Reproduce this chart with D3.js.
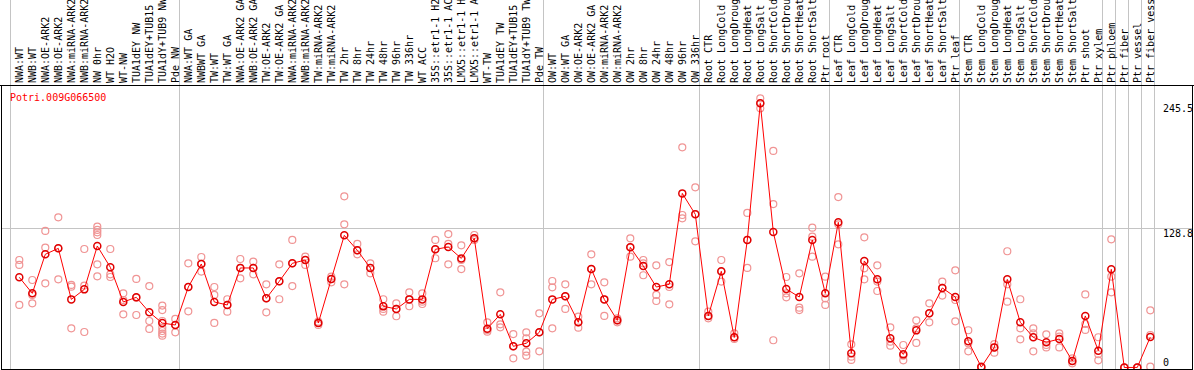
<!DOCTYPE html>
<html>
<head>
<meta charset="utf-8">
<script src="https://cdn.jsdelivr.net/npm/d3@7"></script>
<style>
  body { margin: 0; background: #fff; }
  svg { display: block; font-family: "DejaVu Sans Mono", "Liberation Mono", monospace; font-size: 10px; }
</style>
</head>
<body>
<div id="chart"></div>
<script>
// Datos del gráfico
const gene = "Potri.009G066500";

const categories = [
  "NWA:WT", "NWB:WT", "NWA:OE-ARK2", "NWB:OE-ARK2", "NWA:miRNA-ARK2", "NWB:miRNA-ARK2",
  "NW 0hr", "WT H2O", "WT-NW", "TUA1dEY NW", "TUA1dEY+TUB15 NW", "TUA1dY+TUB9 NW", "Pde NW",
  "NWA:WT GA", "NWBWT GA", "TW:WT", "TW:WT GA", "NWA:OE-ARK2 GA", "NWB:OE-ARK2 GA",
  "TW:OE-ARK2", "TW:OE-ARK2 GA", "NWA:miRNA-ARK2 GA", "NWB:miRNA-ARK2 GA", "TW:miRNA-ARK2",
  "TW:miRNA-ARK2", "TW 2hr", "TW 8hr", "TW 24hr", "TW 48hr", "TW 96hr", "TW 336hr", "WT ACC",
  "35S::etr1-1 H2O", "35S::etr1-1 ACC", "LMX5::etr1-1 H2O", "LMX5::etr1-1 ACC", "WT-TW",
  "TUA1dEY TW", "TUA1dEY+TUB15 TW", "TUA1dY+TUB9 TW", "Pde TW",
  "OW:WT", "OW:WT GA", "OW:OE-ARK2", "OW:OE-ARK2 GA", "OW:miRNA-ARK2", "OW:miRNA-ARK2",
  "OW 2hr", "OW 8hr", "OW 24hr", "OW 48hr", "OW 96hr", "OW 336hr",
  "Root CTR", "Root LongCold", "Root LongDrought", "Root LongHeat", "Root LongSalt",
  "Root ShortCold", "Root ShortDrought", "Root ShortHeat", "Root ShortSalt", "Ptr root",
  "Leaf CTR", "Leaf LongCold", "Leaf LongDrought", "Leaf LongHeat", "Leaf LongSalt",
  "Leaf ShortCold", "Leaf ShortDrought", "Leaf ShortHeat", "Leaf ShortSalt", "Ptr leaf",
  "Stem CTR", "Stem LongCold", "Stem LongDrought", "Stem LongHeat", "Stem LongSalt",
  "Stem ShortCold", "Stem ShortDrought", "Stem ShortHeat", "Stem ShortSalt", "Ptr shoot",
  "Ptr xylem", "Ptr phloem", "Ptr fiber", "Ptr vessel", "Ptr fiber vessel"
];

// Promedio por muestra
const means = [
  83.8, 68.9, 105.2, 110.7, 63.3, 72.6, 112.9, 93.1, 60.9, 65.2, 51.3, 41.3, 39.5,
  74.8, 96.2, 60.9, 58.1, 92.5, 92.5, 64.3, 80.1, 96.8, 99.9, 41.3, 82.2, 122.8, 108.9,
  92.5, 56.8, 54.4, 63.3, 63.3, 109.8, 112.0, 101.4, 120.0, 36.1, 49.4, 19.7, 22.5, 32.7,
  63.3, 66.1, 42.0, 91.5, 63.3, 43.8, 111.7, 94.3, 74.8, 77.3, 161.8, 142.3,
  47.9, 89.4, 28.0, 118.5, 245.5, 125.9, 72.9, 65.5, 118.5, 68.9,
  134.9, 13.2, 99.0, 81.9, 27.1, 12.2, 34.5, 50.3, 73.9, 65.5,
  24.3, 0.4, 18.7, 81.9, 42.0, 28.0, 23.4, 26.5, 6.0, 47.9,
  15.6, 91.2, 0.0, 0.1, 28.3
];

// Réplicas por muestra
const replicates = [
  [99.9, 95.3, 58.1], [81.3, 67.4, 59.6], [126.9, 111.4, 78.2], [139.5, 110.7, 81.9],
  [76.7, 75.1, 36.4], [110.1, 76.1, 33.0], [130.9, 127.8, 125.6, 123.1, 95.9, 84.7],
  [110.1, 86.6, 84.1], [68.9, 62.7, 49.4], [82.3, 64.9, 48.8], [75.7, 43.2, 35.8],
  [57.5, 53.4, 43.2, 37.0, 33.9, 31.5, 29.6], [45.1, 39.5, 32.7],
  [96.8, 74.8, 52.2], [102.7, 96.2, 89.1], [74.8, 67.4, 41.4], [63.4, 58.1, 51.9],
  [100.8, 92.5, 82.9], [98.4, 92.5, 86.6], [77.3, 64.3, 51.3], [95.9, 80.1, 63.4],
  [118.5, 96.8, 75.7], [103.0, 99.9, 95.3], [42.6, 41.4, 39.5], [84.4, 82.2, 79.1],
  [159.1, 133.0, 77.3], [114.8, 108.9, 105.2], [96.8, 92.5, 87.5], [63.4, 54.4, 51.9],
  [59.6, 54.4, 47.6], [69.9, 63.4, 56.9], [68.9, 61.2, 59.0], [118.5, 109.8, 101.5],
  [124.0, 114.8, 95.9], [113.5, 99.9, 91.5], [123.1, 120.0, 118.5], [42.0, 34.9, 33.3],
  [69.9, 40.1, 37.3], [31.1, 19.7, 8.5], [32.7, 27.1, 14.7, 11.0], [50.3, 32.7, 15.0],
  [80.4, 74.5, 36.4], [77.3, 66.1, 54.4], [47.3, 42.0, 37.0], [105.2, 91.5, 77.3],
  [79.1, 63.4, 47.9], [45.7, 43.8, 42.0], [120.0, 111.7, 103.0], [99.9, 96.8, 85.7],
  [94.9, 67.4, 61.8], [98.0, 74.8, 58.7], [204.6, 141.7, 138.6], [167.4, 142.6, 117.2],
  [51.9, 47.9, 45.7], [99.9, 89.1, 79.8], [31.8, 28.1, 26.5], [143.6, 118.5, 92.5],
  [250.1, 245.5, 240.8], [201.2, 151.9, 25.3], [84.1, 68.9, 65.2], [87.5, 55.6, 53.4],
  [129.9, 121.6, 103.0], [84.4, 64.3, 58.1],
  [158.4, 133.0, 114.5], [21.5, 10.1, 7.0], [121.0, 92.2, 81.9], [94.9, 79.8, 71.1],
  [37.3, 24.0, 20.3], [20.9, 11.0, 6.7], [43.8, 36.4, 22.8], [59.6, 50.3, 42.0],
  [79.8, 73.9, 66.8], [90.3, 62.7, 42.9],
  [34.6, 22.5, 15.0], [1.0, 0.2, 0.0], [21.8, 18.7, 13.8], [108.0, 77.3, 61.2],
  [63.4, 36.4, 26.2], [36.4, 31.8, 15.0], [30.8, 20.9, 18.7], [31.8, 28.7, 18.7],
  [8.5, 6.1, 3.9], [67.9, 40.4, 34.9],
  [28.1, 12.3, 6.7], [119.1, 84.4, 69.9], [0, 0, 0], [0.2, 0, 0], [53.1, 30.2, 0.8]
];

// Separadores de grupos (índice de la primera muestra de cada grupo)
const groupBreaks = [0, 13, 41, 53, 63, 73, 84, 85, 86, 87, 88];

// Etiquetas del eje y
const yTickValues = [245.5, 128.8, 0];
const yTickLabels = ["245.5", "128.8", "0"];
const gridValue = 128.8;

// Dimensiones
const width = 1194;
const height = 370;
const headerBottom = 85;
const plotBottom = 369;

const svg = d3.select("#chart").append("svg")
    .attr("width", width)
    .attr("height", height);

// Escalas
const x = d3.scaleBand()
    .domain(d3.range(categories.length))
    .range([10, 10 + 13 * categories.length]);

const px = i => x(i) + 9.3;

const y = d3.scaleLinear()
    .domain([0, 245.5])
    .range([367.5, 103.3]);

// Líneas verticales de grupos
svg.append("g")
    .selectAll("line")
    .data(groupBreaks)
    .enter()
    .append("line")
    .attr("x1", d => (d < categories.length ? x(d) : x.range()[1]) + 0.5)
    .attr("x2", d => (d < categories.length ? x(d) : x.range()[1]) + 0.5)
    .attr("y1", 0)
    .attr("y2", plotBottom)
    .attr("stroke", "#c4c4c4")
    .attr("shape-rendering", "crispEdges");

// Línea horizontal de referencia
svg.append("line")
    .attr("x1", 1)
    .attr("x2", 1193)
    .attr("y1", Math.round(y(gridValue)) - 0.5)
    .attr("y2", Math.round(y(gridValue)) - 0.5)
    .attr("stroke", "#c4c4c4")
    .attr("shape-rendering", "crispEdges");

// Marco del gráfico
svg.append("rect")
    .attr("x", 1.5)
    .attr("y", headerBottom + 0.5)
    .attr("width", 1191)
    .attr("height", plotBottom - headerBottom)
    .attr("fill", "none")
    .attr("stroke", "#000")
    .attr("shape-rendering", "crispEdges");

svg.append("line")
    .attr("x1", 0)
    .attr("x2", 1194)
    .attr("y1", headerBottom + 0.5)
    .attr("y2", headerBottom + 0.5)
    .attr("stroke", "#000")
    .attr("shape-rendering", "crispEdges");

// Etiquetas verticales de las muestras
svg.append("g")
    .selectAll("text")
    .data(categories)
    .enter()
    .append("text")
    .attr("transform", (d, i) => `translate(${px(i) + 3.5},83) rotate(-90)`)
    .attr("fill", "#000")
    .text(d => d);

// Eje y a la derecha
const yAxis = svg.append("g")
    .attr("transform", "translate(1155,0)")
    .call(d3.axisRight(y)
        .tickValues(yTickValues)
        .tickSize(0)
        .tickPadding(8)
        .tickFormat((d, i) => yTickLabels[i]));

yAxis.select(".domain").remove();
yAxis.selectAll("text")
    .attr("fill", "#000")
    .attr("font-family", "DejaVu Sans Mono, monospace")
    .attr("font-size", 10)
    .attr("dy", d => d === 0 ? "-0.2em" : "0.78em");

// Recorte del área de datos
svg.append("clipPath")
    .attr("id", "plot-clip")
    .append("rect")
    .attr("x", 2)
    .attr("y", headerBottom + 1)
    .attr("width", 1190)
    .attr("height", plotBottom - headerBottom - 1);

const plot = svg.append("g").attr("clip-path", "url(#plot-clip)");

// Réplicas
const repPoints = [];
replicates.forEach((reps, i) => reps.forEach(v => repPoints.push({ i: i, v: v })));

plot.selectAll(".rep")
    .data(repPoints)
    .enter()
    .append("circle")
    .attr("class", "rep")
    .attr("cx", d => px(d.i))
    .attr("cy", d => y(d.v))
    .attr("r", 3.5)
    .attr("fill", "none")
    .attr("stroke", "#f09494")
    .attr("stroke-width", 1.2);

// Línea de promedios
const line = d3.line()
    .x((d, i) => px(i))
    .y(d => y(d));

plot.append("path")
    .datum(means)
    .attr("d", line)
    .attr("fill", "none")
    .attr("stroke", "#ff0000")
    .attr("stroke-width", 1);

// Promedios
plot.selectAll(".mean")
    .data(means)
    .enter()
    .append("circle")
    .attr("class", "mean")
    .attr("cx", (d, i) => px(i))
    .attr("cy", d => y(d))
    .attr("r", 3.5)
    .attr("fill", "none")
    .attr("stroke", "#e00000")
    .attr("stroke-width", 1.5);

// Nombre del gen
svg.append("text")
    .attr("x", 10)
    .attr("y", 100.5)
    .attr("fill", "#ff0000")
    .text(gene);
</script>
</body>
</html>
